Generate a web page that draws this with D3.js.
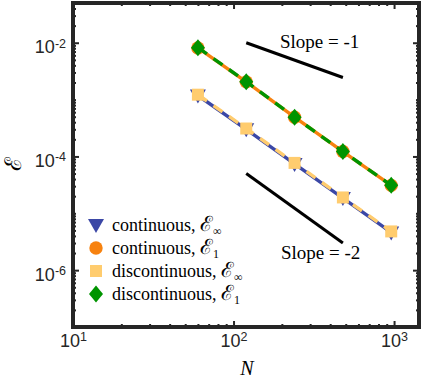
<!DOCTYPE html>
<html>
<head>
<meta charset="utf-8">
<script src="https://cdn.jsdelivr.net/npm/d3@7"></script>
<style>
	body { margin: 0; background: #fff; }
	svg { display: block; }
</style>
</head>
<body>
<svg width="423" height="380"></svg>
<script>
// values
var N = [60, 120, 240, 480, 960];
var contInf = [1.18e-3, 3.0e-4, 7.4e-5, 1.85e-5, 4.6e-6];
var contE1 = [8.1e-3, 2.05e-3, 4.9e-4, 1.22e-4, 3.1e-5];
var discInf = [1.22e-3, 3.1e-4, 7.7e-5, 1.9e-5, 4.8e-6];
var discE1 = [8.2e-3, 2.07e-3, 4.9e-4, 1.22e-4, 3.1e-5];

var slopeN = [120, 480];
var slope1 = [1.0e-2, 2.45e-3];
var slope2 = [5.0e-5, 3.0e-6];

var xTicks = [10, 100, 1000];
var yTicks = [1e-6, 1e-4, 1e-2];

var svg = d3.select("svg");
var pLeft = 73, pRight = 419, pTop = 3, pBottom = 327;

var x = d3.scaleLog().domain([10, 1430]).range([pLeft, pRight]);
var y = d3.scaleLog().domain([1e-7, 0.05]).range([pBottom, pTop]);

var frameColor = "#262626";

// minor ticks: 1..9 x 10^k inside domain, minus the labelled ones
function minors(scale, majors){
	var d = scale.domain(), out = [];
	for(var e = Math.floor(Math.log10(d[0])); e <= Math.ceil(Math.log10(d[1])); e++){
		for(var m = 1; m < 10; m++){
			var v = +(m * Math.pow(10, e)).toPrecision(6);
			if(v >= d[0] && v <= d[1] && !majors.some(t => Math.abs(t - v) < v * 1e-6)) out.push(v);
		}
	}
	return out;
}

function addAxis(axis, tx, ty, vals, size){
	var g = svg.append("g")
		.attr("transform", "translate(" + tx + "," + ty + ")")
		.call(axis.tickValues(vals).tickSize(size).tickSizeOuter(0)
			.tickFormat(d => "").tickPadding(7));
	g.select(".domain").remove();
	g.selectAll(".tick line").attr("stroke", frameColor).attr("stroke-width", 2);
	return g;
}

// ticks, pointing inward on all four sides
addAxis(d3.axisLeft(y), pLeft, 0, minors(y, yTicks), -3);
addAxis(d3.axisRight(y), pRight, 0, minors(y, yTicks), -3);
addAxis(d3.axisRight(y), pRight, 0, yTicks, -6);
addAxis(d3.axisBottom(x), 0, pBottom, minors(x, xTicks), -3);
addAxis(d3.axisTop(x), 0, pTop, minors(x, xTicks), -3);
addAxis(d3.axisTop(x), 0, pTop, xTicks, -6);

var gy = addAxis(d3.axisLeft(y), pLeft, 0, yTicks, -6);
var gx = addAxis(d3.axisBottom(x), 0, pBottom, xTicks, -6);

function expLabel(sel, dy){
	sel.each(function(d){
		var t = d3.select(this).text("")
			.attr("fill", "#262626")
			.style("font-family", "'Liberation Sans', Arial, sans-serif")
			.style("font-size", "18px")
			.attr("dy", dy);
		t.append("tspan").text("10");
		t.append("tspan").attr("dy", "-0.45em").style("font-size", "12.5px")
			.text(Math.round(Math.log10(d)));
	});
}
expLabel(gy.selectAll(".tick text"), "0.55em");
expLabel(gx.selectAll(".tick text"), "0.71em");

// frame
svg.append("rect")
	.attr("x", pLeft).attr("y", pTop)
	.attr("width", pRight - pLeft).attr("height", pBottom - pTop)
	.attr("fill", "none").attr("stroke", frameColor).attr("stroke-width", 4);

var serif = "'Liberation Serif', 'Times New Roman', serif";
var script = "'DejaVu Serif', serif";

// axis labels
svg.append("text")
	.attr("x", 247).attr("y", 375)
	.attr("text-anchor", "middle")
	.style("font-family", serif)
	.style("font-style", "italic").style("font-size", "20px")
	.text("N");
svg.append("text")
	.attr("transform", "translate(21,164) rotate(-90)")
	.attr("text-anchor", "middle")
	.style("font-family", script)
	.style("font-size", "23px")
	.text("\u2130");

// slope guides
var line = d3.line().x(d => x(d[0])).y(d => y(d[1]));
[slope1, slope2].forEach(function(s){
	svg.append("path")
		.attr("d", line(d3.zip(slopeN, s)))
		.attr("stroke", "#000").attr("stroke-width", 3).attr("fill", "none");
});
svg.append("text").attr("x", 280).attr("y", 48)
	.style("font-family", serif).style("font-size", "19px").text("Slope = -1");
svg.append("text").attr("x", 281).attr("y", 259)
	.style("font-family", serif).style("font-size", "19px").text("Slope = -2");

// marker shapes
var triDown = { draw: function(c, s){ c.moveTo(-8, -6); c.lineTo(8, -6); c.lineTo(0, 8); c.closePath(); } };
var diamond = { draw: function(c, s){ c.moveTo(0, -8.5); c.lineTo(7, 0); c.lineTo(0, 8.5); c.lineTo(-7, 0); c.closePath(); } };

var series = [
	{ vals: contInf, color: "#3b47a6", dash: null, symbol: triDown, size: 1, label: ["continuous, ", "\u221e"] },
	{ vals: contE1, color: "#f7820f", dash: null, symbol: d3.symbolCircle, size: 140, label: ["continuous, ", "1"] },
	{ vals: discInf, color: "#ffcc6e", dash: "11,8", symbol: d3.symbolSquare, size: 144, label: ["discontinuous, ", "\u221e"] },
	{ vals: discE1, color: "#009400", dash: "11,8", symbol: diamond, size: 1, label: ["discontinuous, ", "1"] }
];

series.forEach(function(s){
	var pts = d3.zip(N, s.vals);
	svg.append("path")
		.attr("d", line(pts))
		.attr("stroke", s.color).attr("stroke-width", 3.4).attr("fill", "none")
		.attr("stroke-dasharray", s.dash);
	svg.append("g").selectAll("path")
		.data(pts)
		.enter()
		.append("path")
		.attr("d", d3.symbol().type(s.symbol).size(s.size))
		.attr("transform", d => "translate(" + x(d[0]) + "," + y(d[1]) + ")")
		.attr("fill", s.color);
});

// legend
var lg = svg.append("g").selectAll("g")
	.data(series)
	.enter()
	.append("g")
	.attr("transform", (d, i) => "translate(96," + (225 + i * 23) + ")");
lg.append("path")
	.attr("d", d => d3.symbol().type(d.symbol).size(d.size)())
	.attr("fill", d => d.color);
var lt = lg.append("text")
	.attr("x", 16).attr("y", 6)
	.style("font-family", serif).style("font-size", "18px");
lt.append("tspan").text(d => d.label[0]);
lt.append("tspan").style("font-family", script).style("font-size", "21px").text("\u2130");
lt.append("tspan").attr("dy", 4).style("font-size", "12px").text(d => d.label[1]);
</script>
</body>
</html>
